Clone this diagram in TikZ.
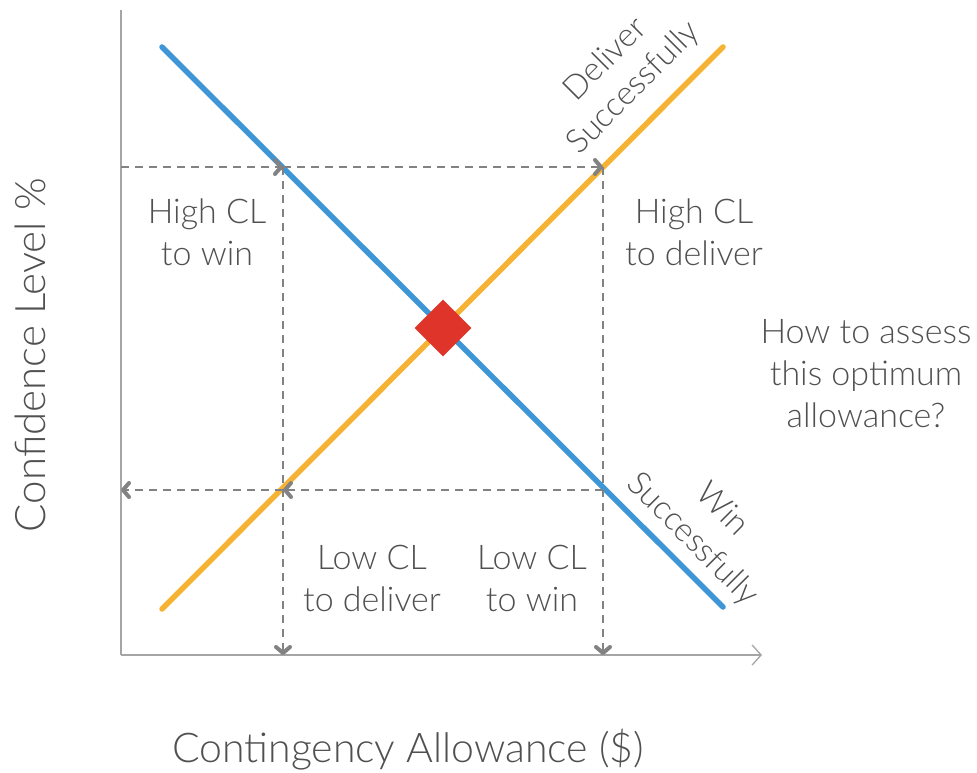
\documentclass[tikz,border=0pt]{standalone}
\usepackage{fontspec}
\setmainfont{Lato}[UprightFont=* Light]
\usepackage{tikz}
\usetikzlibrary{positioning, calc, arrows.meta, shapes.geometric}

\definecolor{winblue}{RGB}{62,150,214}
\definecolor{delorange}{RGB}{246,178,50}
\definecolor{optred}{RGB}{222,52,42}
\definecolor{axisgray}{RGB}{165,165,165}
\definecolor{guidegray}{RGB}{130,130,130}
\definecolor{textgray}{RGB}{80,80,80}

\tikzset{
  curve/.style={line width=5.5pt, line cap=round},
  guide/.style={guidegray, line width=1.4pt, dash pattern=on 8pt off 6pt},
  tip/.style={-{Straight Barb[length=6pt,width=14pt,line width=4pt,round]}},
  lbl/.style={text=textgray, align=center, font=\fontsize{34}{42}\selectfont},
}

\begin{document}
\begin{tikzpicture}[x=1pt, y=-1pt]
    \useasboundingbox (0,0) rectangle (977,773);
    % axes
    \coordinate (origin) at (121,655);
    \coordinate (ytop) at (121,10);
    \coordinate (xend) at (762,655);
    \draw[axisgray, line width=1.3pt] (ytop) -- (origin);
    \draw[axisgray, line width=1.3pt, -{Straight Barb[length=9pt,width=20pt]}] (origin) -- (xend);
    % curves
    \coordinate (b0) at (162,47);
    \coordinate (b1) at (723,607);
    \coordinate (o0) at (162,609);
    \coordinate (o1) at (723,47);
    \draw[curve, winblue] (b0) -- (b1);
    \draw[curve, delorange] (o0) -- (o1);
    % guides
    \coordinate (hl) at (121,167);
    \coordinate (hb) at (283,167);
    \coordinate (ho) at (603,167);
    \coordinate (ll) at (121,490);
    \coordinate (lo) at (283,490);
    \coordinate (lb) at (603,490);
    \coordinate (dl) at (283,655);
    \coordinate (dr) at (603,655);
    \draw[guide, tip] (hl) -- (hb);
    \draw[guide, tip] (hb) -- (ho);
    \draw[guide, tip] (lb) -- (lo);
    \draw[guide, tip] (lo) -- (ll);
    \draw[guide, tip] (hb) -- (dl);
    \draw[guide, tip] (ho) -- (dr);
    % optimum
    \node[diamond, fill=optred, minimum size=57pt, inner sep=0pt] (opt) at (443,328) {};
    % labels
    \node[lbl] (hiwin) at (207,232) {High CL\\to win};
    \node[lbl] (hidel) at (694,232) {High CL\\to deliver};
    \node[lbl] (lodel) at (372,578) {Low CL\\to deliver};
    \node[lbl] (lowin) at (532,578) {Low CL\\to win};
    \node[lbl] (assess) at (866,374) {How to assess\\this optimum\\allowance?};
    \node[lbl, rotate=45, font=\fontsize{33}{40}\selectfont] (deliver) at (620,74) {Deliver\\Successfully};
    \node[lbl, rotate=-45, font=\fontsize{33}{42}\selectfont] (win) at (707,525) {Win\\Successfully};
    \node[lbl, rotate=90, font=\fontsize{42}{42}\selectfont] (ylab) at (30,355) {Confidence Level \%};
    \node[lbl, font=\fontsize{41}{42}\selectfont] (xlab) at (408,750) {Contingency Allowance (\$)};
\end{tikzpicture}
\end{document}
